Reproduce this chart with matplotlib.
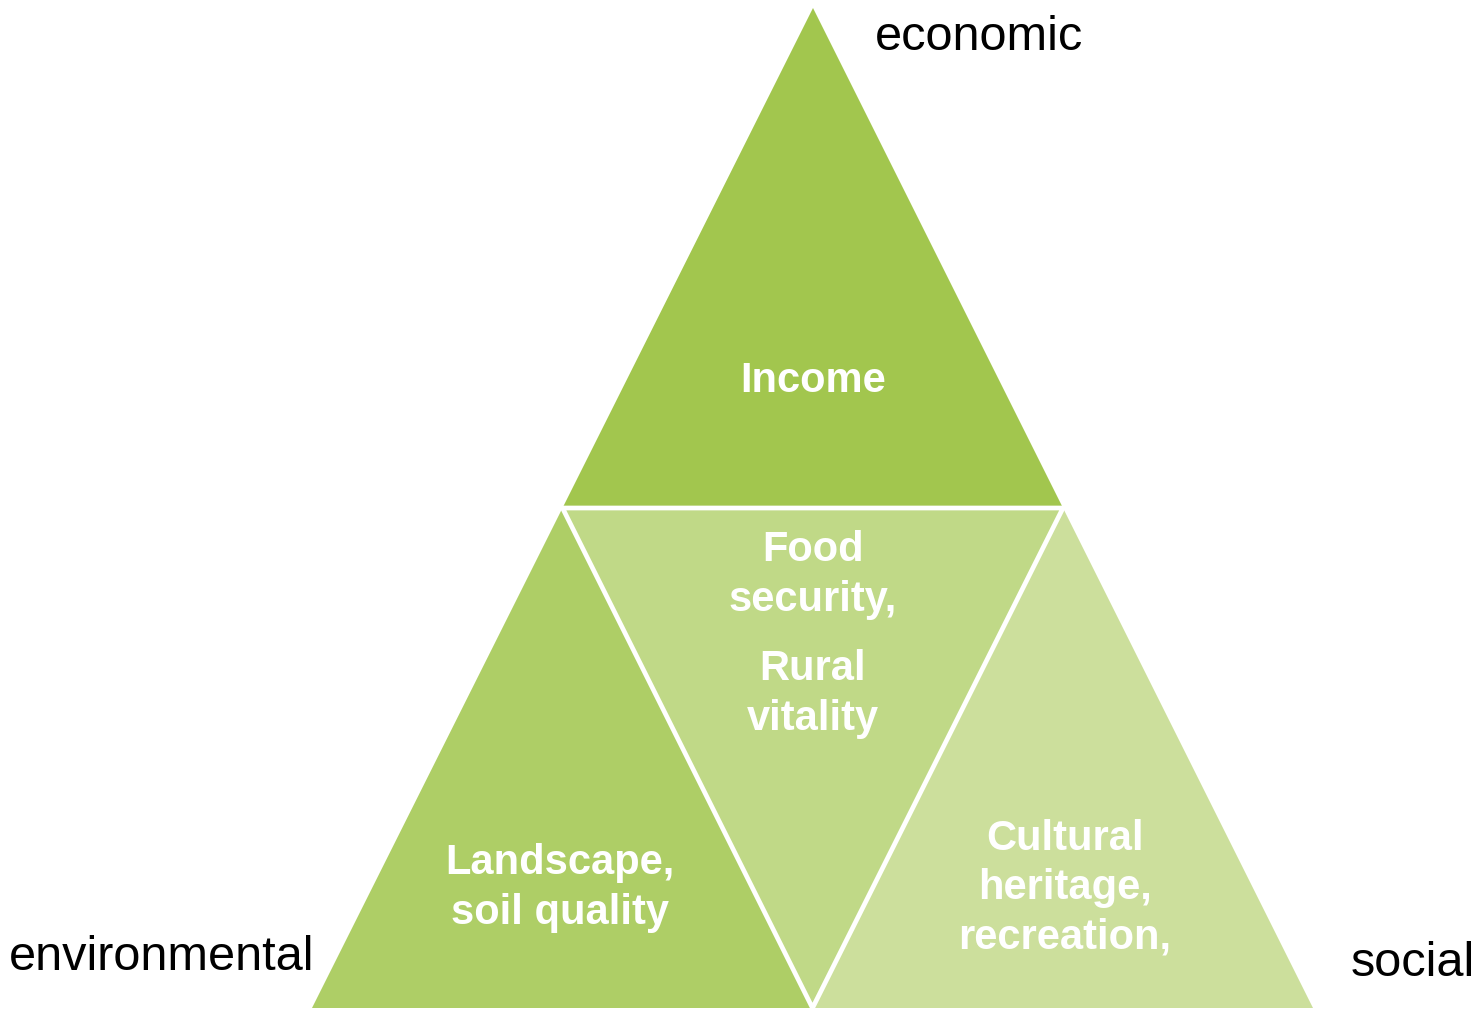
import matplotlib
matplotlib.use("Agg")
import matplotlib.pyplot as plt
from matplotlib.patches import Polygon
import matplotlib.font_manager as fm

# ---- data ----
pillars = ["economic", "environmental", "social"]
segment_labels = ["Income", "Landscape,\nsoil quality", "Food\nsecurity,", "Rural\nvitality",
                  "Cultural\nheritage,\nrecreation,"]
segment_colors = ["#A2C64E", "#AECE66", "#C0D987", "#CCDF9C"]

names = {f.name for f in fm.fontManager.ttflist}
fam = ["Liberation Sans Narrow"] if "Liberation Sans Narrow" in names else ["Liberation Sans"]
fam = fam + ["DejaVu Sans"]

W, H = 1481, 1009
fig = plt.figure(figsize=(W / 100, H / 100), dpi=100)
ax = fig.add_axes([0, 0, 1, 1])
ax.set_xlim(0, W)
ax.set_ylim(H, 0)
ax.axis("off")

# big triangle
A = (813, 8)
L = (312, 1008)
R = (1313, 1008)
mid = lambda p, q: ((p[0] + q[0]) / 2, (p[1] + q[1]) / 2)
mAL, mAR, mLR = mid(A, L), mid(A, R), mid(L, R)
tris = [[A, mAL, mAR], [mAL, L, mLR], [mAL, mAR, mLR], [mAR, mLR, R]]
for t, c in zip(tris, segment_colors):
    ax.add_patch(Polygon(t, closed=True, facecolor=c, edgecolor="none"))
# white separating lines around the central inverted triangle
ax.add_patch(Polygon(tris[2], closed=True, facecolor="none", edgecolor="white",
                     lw=3.4, joinstyle="miter", zorder=3))

# pillar labels
ax.text(979, 37, pillars[0], ha="center", va="center", fontsize=35, family=fam, color="black")
ax.text(162, 958, pillars[1], ha="center", va="center", fontsize=35, family=fam, color="black")
ax.text(1413, 963, pillars[2], ha="center", va="center", fontsize=35, family=fam, color="black")

# segment labels
kw = dict(ha="center", va="center", fontsize=30, family=fam, color="white",
          fontweight="bold", linespacing=1.3, zorder=4)
ax.text(813, 381, segment_labels[0], **kw)
ax.text(560, 888, segment_labels[1], **kw)
ax.text(813, 575, segment_labels[2], **kw)
ax.text(813, 694, segment_labels[3], **kw)
ax.text(1065, 888, segment_labels[4], **kw)

fig.savefig("out.png", dpi=100)
